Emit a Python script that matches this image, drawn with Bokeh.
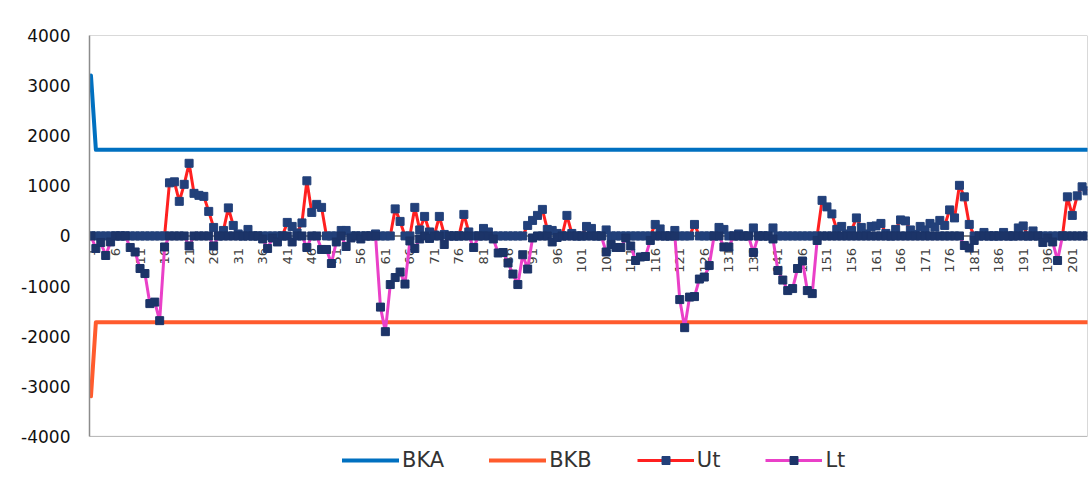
import math
from bokeh.plotting import figure
from bokeh.models import Range1d, FixedTicker, Legend, LegendItem, Span, BoxAnnotation
from bokeh.core.properties import value
from bokeh.embed import file_html
from bokeh.resources import INLINE

# ---- data ----
t = list(range(1, 205))
bka = [3200] + [1720] * 203
bkb = [-3200] + [-1720] * 203

ut = [0, 0, 0, 0, 0, 0, 0, 0, 0, 0,
      0, 0, 0, 0, 0, 0, 1060, 1080, 690, 1030,
      1450, 850, 810, 790, 490, 170, 0, 110, 560, 210,
      40, 0, 130, 0, 0, 0, 0, 0, 0, 0,
      270, 190, 60, 260, 1100, 470, 630, 570, 0, 0,
      0, 110, 110, 0, 0, 0, 0, 0, 40, 0,
      0, 0, 540, 290, 0, 0, 570, 120, 390, 80,
      20, 390, 30, 0, 0, 0, 430, 80, 0, 0,
      150, 80, 0, 0, 0, 0, 0, 0, 0, 210,
      310, 410, 530, 130, 110, 50, 0, 410, 50, 0,
      0, 190, 150, 0, 0, 120, 0, 0, 0, 0,
      0, 0, 0, 0, 0, 230, 140, 0, 0, 110,
      0, 0, 0, 230, 0, 0, 0, 0, 170, 130,
      0, 0, 40, 0, 0, 160, 0, 0, 0, 160,
      0, 0, 0, 0, 0, 0, 0, 0, 0, 710,
      580, 440, 130, 190, 40, 110, 360, 170, 40, 190,
      200, 250, 50, 0, 130, 320, 300, 120, 30, 190,
      120, 250, 180, 310, 210, 520, 360, 1010, 780, 230,
      0, 0, 70, 0, 0, 0, 70, 0, 0, 160,
      200, 0, 100, 0, 0, 0, 0, 0, 0, 780,
      410, 800, 980, 900]

lt = [0, -250, -130, -390, -120, 0, 0, 0, -230, -320,
      -650, -750, -1350, -1320, -1690, -220, 0, 0, 0, 0,
      -200, 0, 0, 0, 0, -200, 0, 0, 0, 0,
      0, 0, 0, 0, 0, -60, -250, -40, -120, 0,
      0, -120, 0, 0, -230, 0, 0, -270, -270, -550,
      -120, 0, -210, -40, 0, -60, 0, 0, 0, -1420,
      -1910, -970, -830, -720, -960, -100, -250, -60, 0, -50,
      0, 0, -170, 0, 0, 0, 0, 0, -230, 0,
      0, 0, -60, -340, -330, -540, -760, -970, -375, -660,
      -40, 0, 0, 0, -120, -30, 0, 0, 0, 0,
      0, 0, 0, 0, 0, -320, -170, -230, -230, -40,
      -200, -490, -420, -410, -90, 0, 0, 0, 0, 0,
      -1270, -1830, -1220, -1210, -860, -820, -590, 0, 0, -220,
      -220, 0, 0, 0, 0, -330, 0, 0, 0, -60,
      -690, -880, -1090, -1050, -650, -500, -1090, -1150, -90, 0,
      0, 0, 0, 0, 0, 0, 0, 0, 0, 0,
      0, 0, 0, 0, 0, 0, 0, 0, 0, 0,
      0, 0, 0, 0, 0, 0, 0, 0, -190, -240,
      -90, 0, 0, 0, 0, 0, 0, 0, 0, 0,
      0, 0, 0, 0, -130, -40, -120, -490, 0, 0,
      0, 0, 0, 0]

x_tick_pos = list(range(1, 205, 5))
x_tick_labels = [str(v) for v in x_tick_pos]
y_ticks = [-4000, -3000, -2000, -1000, 0, 1000, 2000, 3000, 4000]
y_tick_labels = ["-4000", "-3000", "-2000", "-1000", "0", "1000", "2000", "3000", "4000"]

Y_MIN, Y_MAX = -4000, 4000
X_MIN, X_MAX = 0.7, 204.1

# ---- figure ----
# frame extends below the plot area to host the legend
p = figure(width=1089, height=487, x_range=Range1d(X_MIN, X_MAX), y_range=Range1d(-4880, Y_MAX),
           output_backend="svg", toolbar_location=None,
           min_border_left=89, min_border_right=2, min_border_top=35, min_border_bottom=7)
p.xgrid.visible = False
p.ygrid.visible = False
p.xaxis.visible = False
p.outline_line_color = None

# plot-area border
p.add_layout(BoxAnnotation(top=Y_MAX, bottom=Y_MIN, left=X_MIN, right=X_MAX,
                           fill_alpha=0, line_color="#000000", line_width=1, level="underlay"))

ya = p.yaxis[0]
ya.ticker = FixedTicker(ticks=y_ticks)
ya.major_label_overrides = dict(zip(y_ticks, y_tick_labels))
ya.bounds = (Y_MIN, Y_MAX)
ya.major_label_text_font = "DejaVu Sans"
ya.major_label_text_font_size = "17px"
ya.major_label_text_color = "#111111"
ya.major_label_standoff = 19
ya.major_tick_out = 0
ya.major_tick_in = 0
ya.minor_tick_out = 0
ya.minor_tick_in = 0
ya.axis_line_color = "#8c8c8c"
ya.axis_line_width = 1.5

p.add_layout(Span(location=0, dimension="width", line_color="#868686", line_width=2, level="underlay"))

# category labels next to the zero axis
p.text(x=x_tick_pos, y=[0] * len(x_tick_pos), text=x_tick_labels, angle=math.pi / 2,
       text_align="right", text_baseline="middle", y_offset=12,
       text_font=value("DejaVu Sans"), text_font_size="13px", text_color="#404040")

r_bka = p.line(t, bka, line_color="#0070C0", line_width=4, line_cap="round", line_join="round")
r_bkb = p.line(t, bkb, line_color="#FF5B2D", line_width=4, line_cap="round", line_join="round")
r_utl = p.line(t, ut, line_color="#FF2020", line_width=3)
r_utm = p.scatter(t, ut, marker="square", size=8, fill_color="#22407A", line_color="#22407A")
r_ltl = p.line(t, lt, line_color="#EA40C8", line_width=3)
r_ltm = p.scatter(t, lt, marker="square", size=8, fill_color="#1C3468", line_color="#1C3468")

legend = Legend(items=[LegendItem(label="BKA", renderers=[r_bka]),
                       LegendItem(label="BKB", renderers=[r_bkb]),
                       LegendItem(label="Ut", renderers=[r_utl, r_utm]),
                       LegendItem(label="Lt", renderers=[r_ltl, r_ltm])],
                orientation="horizontal", location=(253, 8),
                glyph_width=57, glyph_height=20, label_standoff=3, spacing=45,
                padding=0, margin=0, border_line_color=None, background_fill_alpha=0,
                label_text_font="DejaVu Sans", label_text_font_size="21px",
                label_text_color="#333333")
p.add_layout(legend)

open("out.html", "w").write(file_html(p, INLINE))
